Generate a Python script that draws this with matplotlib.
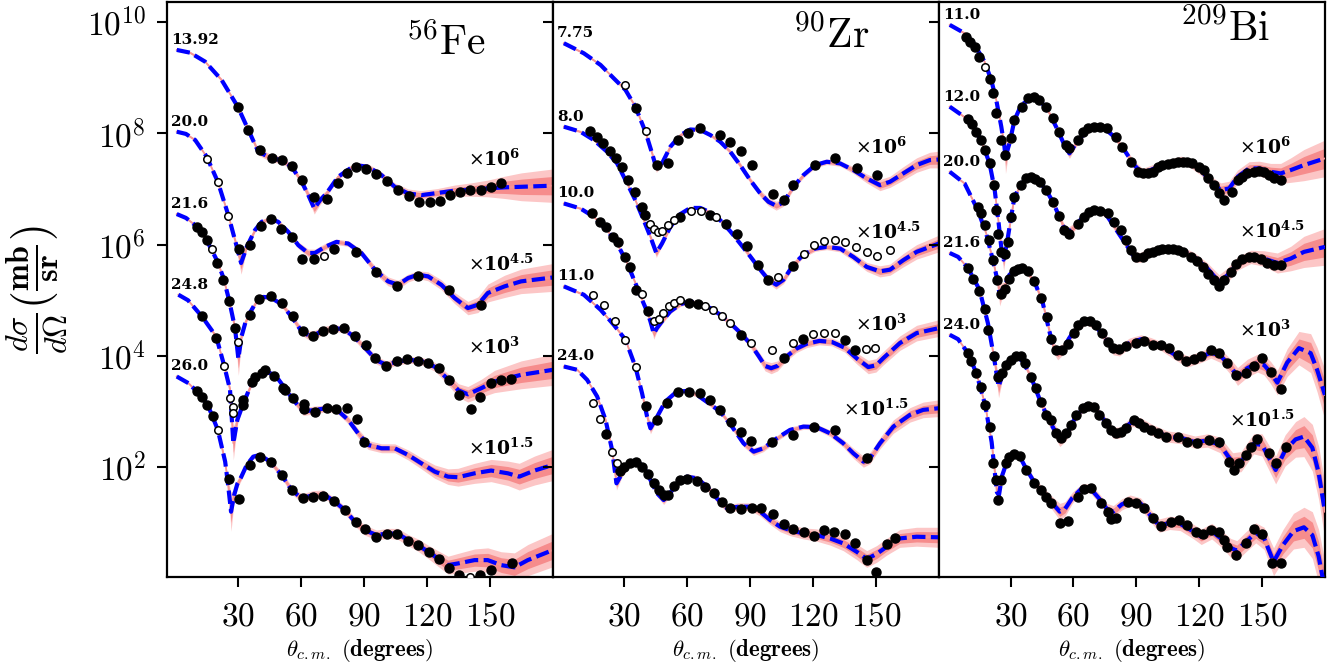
import numpy as np
import matplotlib.pyplot as plt
from matplotlib.ticker import NullLocator

plt.rcParams['mathtext.fontset'] = 'cm'
plt.rcParams['font.family'] = ['DejaVu Serif']
plt.rcParams['axes.linewidth'] = 1.6

# theory curves: [theta_cm, log10(dsigma/dOmega), band half-width in decades]
# data points: [theta_cm, log10(dsigma/dOmega)]

# ---------- 56Fe ----------
fe_13_fit = [[0.6, 9.50, .02], [7, 9.45, .02], [14.1, 9.29, .02], [22, 8.96, .03], [29.7, 8.48, .03],
             [34.8, 8.06, .04], [39.5, 7.67, .06], [45.9, 7.55, .07], [50.6, 7.52, .06], [55.4, 7.40, .05],
             [60.2, 7.13, .06], [63.5, 6.88, .08], [66.2, 6.65, .1], [69, 6.80, .08], [72, 6.92, .06],
             [77.6, 7.22, .05], [85.6, 7.43, .05], [91.9, 7.40, .05], [98.3, 7.25, .06], [104.6, 7.04, .07],
             [111, 6.92, .08], [117.3, 6.89, .08], [125.2, 6.93, .08], [133, 6.97, .1], [141, 6.99, .12],
             [149, 7.01, .15], [157, 7.03, .2], [165, 7.04, .25], [180, 7.06, .3]]
fe_13_pts = [[29.7, 8.48], [34.8, 8.06], [40.3, 7.70], [45.9, 7.55], [50.6, 7.52], [55.4, 7.42], [60.2, 7.16],
             [66.2, 6.85], [72.1, 6.82], [77.6, 7.11], [81.6, 7.28], [86.3, 7.39], [91.1, 7.36], [95.9, 7.27],
             [101, 7.15], [106.2, 6.98], [111.3, 6.88], [116.2, 6.77], [121.3, 6.76], [126, 6.79], [130.8, 6.89],
             [135.6, 6.95], [140.6, 6.98], [145.6, 6.99], [150.3, 7.03], [155.4, 7.10]]
fe_13_open = []

fe_20_fit = [[0.6, 8.03, .02], [5, 7.99, .02], [9.4, 7.88, .02], [14.9, 7.58, .02], [20.2, 7.13, .03],
             [25.2, 6.53, .03], [28.4, 6.08, .05], [31.3, 5.67, .2], [34, 5.96, .05], [37.9, 6.26, .04],
             [41.1, 6.41, .04], [45.1, 6.47, .04], [49, 6.41, .04], [53.8, 6.23, .05], [58.6, 5.99, .06],
             [63.3, 5.85, .07], [66.5, 5.85, .07], [71.3, 5.96, .06], [76.8, 6.05, .05], [82.4, 6.02, .05],
             [88.7, 5.85, .06], [95.1, 5.55, .07], [101.4, 5.34, .08], [106.2, 5.28, .08], [111, 5.40, .07],
             [115.7, 5.46, .07], [120.5, 5.43, .08], [126.8, 5.28, .09], [133.2, 5.04, .1], [139.5, 4.86, .12],
             [144.3, 4.92, .14], [149, 5.13, .16], [157, 5.25, .2], [164.9, 5.34, .22], [180, 5.41, .25]]
fe_20_pts = [[30.5, 5.92], [35.6, 5.99], [40.6, 6.34], [45.4, 6.46], [50.3, 6.29], [55.4, 6.13], [60.2, 5.75],
             [66, 5.74], [75.6, 5.93], [86, 5.86], [95.9, 5.51], [105.7, 5.26], [115.7, 5.44], [130.3, 5.19],
             [145.6, 4.92]]
fe_20_open = [[14.9, 7.54], [20.2, 7.12], [25.2, 6.52], [70.8, 5.80]]

fe_21_fit = [[0.6, 6.55, .02], [5, 6.48, .02], [9.4, 6.35, .02], [14.9, 6.08, .02], [20, 5.70, .03],
             [22.9, 5.40, .03], [25.6, 5.00, .04], [28.4, 4.50, .06], [30, 3.95, .3], [31.5, 4.35, .08],
             [33.5, 4.62, .05], [35.6, 4.78, .04], [38.5, 4.97, .04], [42, 5.06, .04], [45.4, 5.05, .04],
             [50.6, 4.93, .05], [55.9, 4.68, .06], [60, 4.45, .07], [63.5, 4.37, .08], [66.5, 4.38, .08],
             [70.5, 4.46, .07], [75.2, 4.50, .06], [80.5, 4.48, .06], [85.6, 4.33, .06], [91, 4.12, .07],
             [96, 3.92, .07], [100.6, 3.84, .07], [106, 3.90, .06], [112, 3.93, .06], [118, 3.90, .07],
             [124, 3.80, .08], [130, 3.58, .1], [135, 3.38, .12], [139.5, 3.31, .14], [145.9, 3.42, .16],
             [152.2, 3.54, .2], [164.9, 3.66, .25], [180, 3.75, .28]]
fe_21_pts = [[10.2, 6.32], [12.5, 6.22], [14.9, 6.08], [20, 5.67], [22.9, 5.37], [25.6, 4.98], [28.4, 4.50],
             [35.6, 4.74], [40, 5.02], [45.4, 5.07], [50.6, 4.95], [55.9, 4.71], [60.6, 4.44], [65.7, 4.36],
             [70.5, 4.44], [75.2, 4.48], [80.5, 4.50], [85.6, 4.35], [91.1, 4.20], [95.1, 3.96], [100.6, 3.81],
             [105.9, 3.90], [110.6, 3.94], [115.7, 3.90], [120.5, 3.87], [125.6, 3.78], [130.3, 3.57],
             [135.1, 3.29], [140.8, 3.05], [145.1, 3.27], [150.6, 3.52], [155.4, 3.56], [160.2, 3.58]]
fe_21_open = [[17.6, 5.92], [30, 4.25]]

fe_24_fit = [[1.4, 5.10, .02], [6, 5.00, .02], [12.6, 4.71, .02], [19.4, 4.35, .03], [23.2, 3.83, .04],
             [26, 3.40, .06], [27.6, 2.43, .3], [29.5, 2.85, .08], [32.4, 3.15, .05], [37.1, 3.57, .04],
             [42.7, 3.72, .04], [47.5, 3.66, .04], [52.2, 3.42, .05], [56.2, 3.21, .06], [61, 3.00, .07],
             [66.5, 3.03, .07], [72.1, 3.06, .06], [76.8, 3.04, .06], [82.4, 2.85, .07], [87.1, 2.61, .08],
             [91.9, 2.40, .08], [98.3, 2.34, .08], [104.6, 2.34, .08], [111, 2.22, .09], [117.3, 2.07, .1],
             [123.7, 1.92, .12], [130, 1.83, .14], [134.8, 1.82, .16], [142.7, 1.89, .18], [150.6, 1.94, .2],
             [158.6, 1.89, .22], [164, 1.83, .24], [171.3, 1.94, .26], [180, 2.04, .28]]
fe_24_pts = [[12.6, 4.71], [19.2, 4.33], [32.4, 3.12], [32.4, 3.20], [36.4, 3.54], [37.9, 3.63], [41.1, 3.70],
             [42.7, 3.75], [47.1, 3.64], [51.4, 3.42], [52.2, 3.39], [56.2, 3.24], [61.3, 3.14], [61.4, 3.04],
             [66.5, 3.00], [72.1, 3.06], [76.8, 3.04], [81.6, 3.06], [86.4, 2.86], [89.9, 2.46]]
fe_24_open = [[23.0, 3.82], [26.2, 3.24], [27.3, 3.09], [27.6, 2.97]]

fe_26_fit = [[0.6, 3.63, .02], [6.2, 3.51, .02], [10.2, 3.36, .02], [15.4, 3.12, .03], [20.2, 2.67, .04],
             [23.7, 2.10, .06], [25.2, 1.65, .1], [26.5, 1.20, .35], [28, 1.50, .1], [29.5, 1.70, .08],
             [31.3, 1.82, .06], [34, 2.04, .05], [37.1, 2.19, .04], [40.3, 2.22, .04], [45.1, 2.10, .05],
             [50.6, 1.86, .06], [55.4, 1.59, .07], [60.2, 1.44, .08], [65.7, 1.50, .08], [70.5, 1.52, .07],
             [76, 1.38, .07], [80.8, 1.23, .07], [85.6, 1.02, .08], [90.3, 0.87, .09], [95.9, 0.78, .09],
             [101.4, 0.81, .09], [106.2, 0.80, .1], [111, 0.69, .1], [115.7, 0.60, .11], [120.5, 0.48, .12],
             [125.2, 0.36, .14], [130, 0.24, .16], [134.8, 0.27, .18], [142.7, 0.33, .2], [149, 0.33, .22],
             [155.4, 0.24, .24], [161.7, 0.20, .26], [168.1, 0.33, .28], [180, 0.51, .3]]
fe_26_pts = [[10.2, 3.37], [12.5, 3.27], [14.9, 3.12], [17.8, 2.92], [25.6, 1.79], [30.3, 1.43], [35.6, 2.04],
             [40.3, 2.18], [45.4, 2.09], [50.6, 1.86], [55.4, 1.59], [60.6, 1.44], [65.7, 1.47], [70.5, 1.48],
             [75.7, 1.40], [80.8, 1.23], [86, 1.01], [90.6, 0.89], [95.9, 0.75], [101, 0.80], [105.9, 0.80],
             [111, 0.68], [115.7, 0.60], [120.8, 0.47], [125.6, 0.35], [130.3, 0.18], [135.1, 0.06],
             [145.1, 0.06], [150.3, 0.15], [160.6, 0.27]]
fe_26_open = [[20.2, 2.67], [140.3, 0.02]]

# ---------- 90Zr ----------
zr_7_fit = [[1.1, 9.62, .02], [10.6, 9.44, .02], [18.6, 9.23, .02], [24.9, 8.99, .02], [30.5, 8.78, .03],
            [35.2, 8.48, .03], [40, 8.03, .04], [43.2, 7.64, .05], [45.2, 7.38, .08], [47.9, 7.46, .05],
            [51.9, 7.76, .04], [56.7, 7.97, .03], [61.4, 8.07, .03], [66.2, 8.06, .03], [71, 7.97, .03],
            [75.7, 7.85, .04], [80.5, 7.67, .04], [85.2, 7.43, .05], [90, 7.16, .05], [94.8, 6.92, .06],
            [98.7, 6.77, .07], [102.4, 6.70, .08], [105.9, 6.76, .07], [110.6, 7.04, .05], [115.4, 7.25, .05],
            [121, 7.43, .05], [126.5, 7.49, .05], [132.9, 7.46, .05], [139.2, 7.34, .06], [145.6, 7.19, .08],
            [151.9, 7.07, .1], [156.7, 7.13, .1], [163, 7.28, .12], [169.4, 7.43, .13], [175.7, 7.52, .14],
            [180, 7.53, .15]]
zr_7_pts = [[35.6, 8.46], [45.6, 7.43], [50.6, 7.47], [55.4, 7.88], [60.3, 8.00], [65.9, 8.09], [75.7, 7.97],
            [80.5, 7.85], [85.7, 7.69], [90.8, 7.44], [101, 6.91], [105.9, 6.80], [110.6, 7.07], [121, 7.44],
            [130.5, 7.56], [140.8, 7.37], [150.6, 7.26]]
zr_7_open = [[30.5, 8.87], [40.5, 8.04]]

zr_8_fit = [[1.1, 8.12, .02], [9, 8.03, .02], [15.4, 7.88, .02], [21.7, 7.67, .02], [26.5, 7.46, .03],
            [31.3, 7.10, .03], [35.2, 6.80, .03], [39.2, 6.44, .04], [42.4, 6.14, .05], [45.2, 5.85, .08],
            [47.9, 6.02, .05], [51.9, 6.32, .04], [56.7, 6.55, .03], [61.4, 6.66, .03], [66.2, 6.66, .03],
            [71, 6.58, .03], [75.7, 6.44, .04], [80.5, 6.24, .04], [85.2, 6.02, .05], [90, 5.79, .05],
            [94.8, 5.55, .06], [98.7, 5.37, .07], [102.4, 5.28, .08], [105.9, 5.37, .07], [110.6, 5.64, .06],
            [115.4, 5.82, .05], [121, 5.93, .05], [126.5, 5.96, .05], [132.9, 5.93, .06], [139.2, 5.78, .07],
            [145.6, 5.60, .08], [151.9, 5.52, .1], [156.7, 5.55, .1], [163, 5.72, .12], [169.4, 5.87, .13],
            [180, 6.02, .15]]
zr_8_pts = [[13.8, 8.04], [17, 7.93], [19.8, 7.82], [23, 7.69], [26.2, 7.55], [28.6, 7.40], [31.7, 7.16],
            [34.9, 6.94], [38.4, 6.68], [40, 6.53], [56.7, 6.50], [71, 6.53], [78.6, 6.37], [83.7, 6.19],
            [88.7, 5.98], [93.5, 5.64], [98.7, 5.37], [110.6, 5.62]]
zr_8_open = [[42.1, 6.38], [44, 6.28], [45.9, 6.23], [47.9, 6.25], [50.6, 6.35], [53.5, 6.44], [61.7, 6.61],
             [66.7, 6.61], [73.8, 6.49], [103.5, 5.41], [115.6, 5.84], [120.6, 5.99], [125.3, 6.06],
             [130.5, 6.09], [135.2, 6.04], [140.5, 5.95], [145.6, 5.87], [150.6, 5.80], [156.7, 5.90]]

zr_10_fit = [[1.1, 6.74, .02], [9, 6.65, .02], [15.4, 6.50, .02], [21.7, 6.26, .02], [26.5, 6.02, .03],
             [31.3, 5.67, .03], [35.2, 5.31, .04], [38.4, 5.01, .04], [40.8, 4.80, .05], [42.4, 4.62, .06],
             [44, 4.40, .1], [45.5, 4.50, .06], [47.9, 4.62, .05], [51.9, 4.80, .04], [56.7, 4.93, .04],
             [61.4, 4.98, .04], [66.2, 4.93, .04], [71, 4.86, .04], [75.7, 4.74, .05], [80.5, 4.59, .05],
             [85.2, 4.42, .06], [90, 4.22, .07], [94, 4.00, .08], [97.1, 3.82, .09], [100, 3.78, .1],
             [103, 3.82, .09], [107, 3.98, .08], [112, 4.13, .07], [117, 4.22, .07], [123, 4.27, .07],
             [129, 4.25, .07], [135, 4.15, .08], [141, 3.95, .1], [146.3, 3.80, .12], [150, 3.83, .12],
             [153.5, 3.96, .12], [161.4, 4.23, .13], [169.4, 4.41, .14], [180, 4.50, .15]]
zr_10_pts = [[14.6, 6.56], [18.3, 6.41], [21.4, 6.31], [24.6, 6.13], [27, 6.04], [30.5, 5.78], [32.5, 5.60],
             [35.7, 5.18], [41.1, 4.80], [60.6, 4.96], [64.9, 4.94], [85.4, 4.37], [105.9, 3.96], [115.4, 4.30],
             [135.2, 4.29], [140, 4.11]]
zr_10_open = [[38.4, 5.11], [44, 4.62], [46.3, 4.66], [48.4, 4.78], [51.1, 4.89], [53.5, 4.95], [56.7, 5.01],
              [68.6, 4.89], [72.2, 4.83], [76.5, 4.72], [80.5, 4.60], [90.5, 4.24], [100.3, 4.10],
              [110.3, 4.24], [120.2, 4.40], [125, 4.42], [130.5, 4.41], [145.2, 4.13], [149.5, 4.14]]

zr_11_fit = [[1.1, 5.25, .02], [10.6, 5.10, .02], [18.6, 4.83, .02], [24.9, 4.56, .03], [30.5, 4.29, .03],
             [35.2, 3.81, .04], [38.4, 3.33, .05], [40.8, 2.91, .07], [42.4, 2.70, .1], [45.2, 2.88, .06],
             [49.5, 3.18, .04], [55, 3.36, .04], [59.8, 3.37, .04], [64.6, 3.30, .04], [70.2, 3.15, .04],
             [75.7, 3.00, .05], [81.3, 2.73, .05], [86.8, 2.43, .06], [91.6, 2.28, .07], [96.3, 2.34, .06],
             [102.7, 2.52, .05], [109, 2.67, .05], [115.4, 2.73, .05], [121.7, 2.72, .05], [128.1, 2.61, .06],
             [134.4, 2.43, .07], [139.2, 2.25, .09], [144, 2.10, .1], [147.1, 2.16, .1], [151.9, 2.43, .1],
             [158.3, 2.73, .12], [166.2, 2.94, .13], [172.5, 3.03, .14], [180, 3.06, .15]]
zr_11_pts = [[40.3, 3.10], [45.6, 2.84], [50.3, 3.16], [55.4, 3.35], [60.6, 3.36], [65.9, 3.33], [70.6, 3.20],
             [75.7, 3.03], [80.9, 2.82], [85.7, 2.64], [90.5, 2.47], [100.3, 2.45], [110.6, 2.58], [120.5, 2.73],
             [130.5, 2.67], [145.6, 2.16]]
zr_11_open = [[15.1, 5.10], [20.2, 4.91], [25.4, 4.63], [30.5, 4.29], [35.6, 3.80]]

zr_24_fit = [[1.1, 3.81, .02], [7.5, 3.75, .02], [12.2, 3.57, .02], [17, 3.27, .03], [21, 2.85, .04],
             [24.1, 2.31, .06], [26.2, 1.71, .12], [28.9, 1.89, .06], [32.9, 2.07, .04], [36, 2.10, .04],
             [39.2, 2.01, .04], [42.4, 1.77, .05], [45.6, 1.53, .06], [48.7, 1.41, .08], [51.1, 1.50, .06],
             [55.1, 1.71, .05], [59.8, 1.83, .05], [64.6, 1.80, .05], [69.4, 1.65, .06], [74.1, 1.44, .07],
             [78.9, 1.26, .07], [84.4, 1.29, .07], [90, 1.29, .07], [94.8, 1.20, .08], [99.5, 1.05, .08],
             [104.3, 0.93, .09], [109, 0.87, .1], [115.4, 0.81, .1], [121.7, 0.78, .11], [128.1, 0.72, .12],
             [134.4, 0.63, .13], [140.8, 0.48, .14], [145.6, 0.35, .15], [150.3, 0.44, .15], [155.1, 0.57, .15],
             [161.4, 0.72, .16], [169.4, 0.75, .17], [180, 0.74, .18]]
zr_24_pts = [[21.4, 2.59], [28.1, 1.94], [30, 2.01], [32.5, 2.07], [35.6, 2.10], [38.4, 2.01], [41.1, 1.88],
             [44.3, 1.71], [46.3, 1.59], [48.7, 1.50], [50.6, 1.50], [53.5, 1.66], [56.7, 1.77], [59.8, 1.78],
             [64.6, 1.76], [68.6, 1.65], [72.9, 1.54], [76.5, 1.38], [80.5, 1.27], [85.6, 1.25], [90.8, 1.26],
             [95.2, 1.26], [100.8, 1.16], [105.9, 0.98], [110.6, 0.89], [115.7, 0.83], [120.5, 0.77],
             [125.2, 0.87], [130.2, 0.83], [135.2, 0.80], [140, 0.63], [145.6, 0.33], [150, 0.11], [155.4, 0.62],
             [159, 0.72]]
zr_24_open = [[15.1, 3.16], [18.3, 2.86], [24.3, 2.28], [26.5, 2.07]]

# ---------- 209Bi ----------
bi_11_fit = [[1, 9.95, .02], [8.1, 9.80, .02], [12.9, 9.59, .02], [17.6, 9.29, .02], [20.8, 8.96, .03],
             [23.2, 8.60, .03], [25.6, 8.12, .05], [27.1, 7.76, .1], [27.6, 7.58, .3], [29.5, 7.82, .06],
             [31.9, 8.24, .04], [35.1, 8.51, .03], [39.8, 8.63, .03], [44.6, 8.57, .03], [48.6, 8.36, .04],
             [52.5, 8.06, .05], [55.7, 7.79, .07], [58.1, 7.64, .09], [61.3, 7.82, .06], [65.2, 8.00, .05],
             [70, 8.11, .04], [74.8, 8.09, .04], [79.5, 7.94, .05], [84.3, 7.70, .06], [89, 7.43, .08],
             [93, 7.28, .09], [98.6, 7.37, .08], [104.9, 7.46, .07], [111.3, 7.52, .07], [116, 7.46, .08],
             [120.8, 7.34, .09], [125.6, 7.13, .1], [130.3, 6.98, .13], [134.3, 7.01, .13], [138.3, 7.22, .12],
             [143.8, 7.37, .12], [148.6, 7.37, .13], [154.1, 7.31, .15], [158.9, 7.28, .18], [163.7, 7.34, .22],
             [170, 7.43, .28], [180, 7.55, .33]]
bi_11_pts = [[8.9, 9.74], [10.5, 9.65], [12.9, 9.56], [15.2, 9.38], [20, 8.98], [21.6, 8.72], [23.2, 8.36],
             [25.6, 7.88], [27.5, 7.61], [30, 7.91], [31.9, 8.24], [35.4, 8.48], [38.3, 8.63], [41, 8.66],
             [43.8, 8.60], [47, 8.48], [50.2, 8.27], [53.3, 8.03], [56.5, 7.79], [58.1, 7.73], [62.1, 7.88],
             [64.4, 8.03], [67.1, 8.09], [70, 8.12], [72.7, 8.12], [76, 8.09], [80.3, 7.94], [83, 7.76],
             [87.5, 7.49], [90.6, 7.31], [93, 7.28], [95.4, 7.28], [97.8, 7.31], [100.2, 7.40], [102.5, 7.43],
             [104.9, 7.45], [107.3, 7.46], [109.7, 7.48], [112.1, 7.49], [114.4, 7.48], [116.8, 7.46],
             [120, 7.40], [122.4, 7.34], [124.4, 7.19], [127.1, 7.07], [129.5, 6.92], [131.9, 6.80],
             [135.9, 6.95], [138.3, 7.16], [140.6, 7.22], [143, 7.28], [146.2, 7.31], [148.6, 7.33],
             [151, 7.31], [153.3, 7.25], [155.7, 7.19], [158.9, 7.16]]
bi_11_open = [[17.6, 9.20]]

bi_12_fit = [[1, 8.48, .02], [9.7, 8.25, .02], [16, 7.88, .02], [20, 7.46, .03], [22.4, 7.00, .04],
             [24.3, 6.40, .05], [25.6, 5.95, .08], [26.7, 5.73, .2], [28.4, 6.05, .07], [30.3, 6.50, .05],
             [31.9, 6.86, .04], [34.8, 7.07, .03], [37.5, 7.19, .03], [39.8, 7.21, .03], [43.8, 7.13, .03],
             [47, 6.98, .04], [50.2, 6.77, .05], [53.3, 6.50, .06], [55.5, 6.30, .08], [57.3, 6.22, .09],
             [60.5, 6.32, .07], [63.7, 6.46, .05], [67.6, 6.58, .04], [71.6, 6.62, .04], [76, 6.52, .05],
             [79.5, 6.32, .06], [85.9, 5.96, .07], [89, 5.78, .09], [92, 5.77, .09], [95.4, 5.85, .08],
             [100, 5.90, .07], [104.9, 5.93, .07], [111.3, 5.90, .07], [117.6, 5.78, .08], [124, 5.57, .1],
             [129.5, 5.33, .13], [133.5, 5.45, .13], [138.3, 5.66, .12], [144.6, 5.78, .12], [151, 5.75, .14],
             [157.3, 5.67, .18], [163.7, 5.75, .22], [170, 5.87, .28], [180, 5.96, .33]]
bi_12_pts = [[9.7, 8.25], [11.6, 8.17], [13.7, 8.03], [16, 7.88], [17.9, 7.70], [20, 7.46], [22.1, 7.07],
             [23.2, 6.62], [24, 6.20], [25.6, 5.86], [27.6, 5.84], [28.7, 6.05], [30.3, 6.50], [31.9, 6.86],
             [34.8, 7.07], [37.5, 7.19], [39.8, 7.21], [41.9, 7.18], [44.3, 7.12], [47, 6.98], [50.2, 6.77],
             [53.3, 6.52], [55.4, 6.26], [58.1, 6.20], [62.4, 6.38], [64.9, 6.50], [67.6, 6.58], [70, 6.62],
             [72.7, 6.61], [76.3, 6.56], [79.5, 6.41], [82.7, 6.26], [85.1, 6.08], [87.5, 5.90], [89.8, 5.78],
             [93, 5.77], [95.4, 5.85], [97.8, 5.87], [100.2, 5.90], [102.5, 5.92], [104.9, 5.93], [107.3, 5.93],
             [109.7, 5.90], [112.1, 5.87], [116, 5.78], [119.2, 5.70], [121.6, 5.60], [124.3, 5.48],
             [127.1, 5.36], [129.5, 5.25], [131.9, 5.36], [135.1, 5.51], [137.5, 5.66], [140.6, 5.75],
             [143.8, 5.78], [146.2, 5.78], [149.4, 5.75], [152.5, 5.67], [155.7, 5.63], [158.9, 5.63]]
bi_12_open = []

bi_20_fit = [[1, 7.31, .02], [8.1, 7.10, .02], [14.4, 6.62, .03], [18.4, 6.20, .03], [21.6, 5.72, .04],
             [23.7, 5.37, .06], [24.8, 5.10, .2], [27.1, 5.25, .08], [29.5, 5.46, .05], [33.5, 5.58, .04],
             [36.7, 5.55, .04], [41.4, 5.34, .05], [45.4, 4.95, .06], [48.5, 4.45, .08], [50.5, 4.15, .1],
             [52.5, 4.05, .12], [55, 4.12, .1], [58, 4.32, .08], [61.3, 4.50, .07], [66, 4.62, .06],
             [70.8, 4.53, .06], [75.6, 4.29, .08], [79, 4.12, .1], [82, 4.10, .1], [86.7, 4.23, .09],
             [92.2, 4.30, .08], [97, 4.25, .08], [101.7, 4.18, .08], [108.1, 4.03, .09], [114.4, 3.90, .1],
             [120.8, 3.98, .1], [125.6, 4.06, .1], [130.3, 4.00, .12], [135.1, 3.80, .14], [138.3, 3.63, .16],
             [143, 3.78, .16], [147.8, 3.87, .16], [150.9, 3.84, .18], [154.1, 3.70, .2], [157.3, 3.52, .22],
             [162, 3.88, .25], [167.6, 4.14, .3], [173.2, 4.05, .35], [176.3, 3.75, .4], [180, 3.30, .45]]
bi_20_pts = [[14.4, 6.68], [15.7, 6.56], [17.9, 6.35], [19.7, 6.08], [21.6, 5.72], [23.7, 5.37], [25.6, 5.12],
             [27.6, 5.21], [29.2, 5.38], [31.5, 5.52], [33.5, 5.57], [35.5, 5.58], [38.3, 5.52], [41.4, 5.34],
             [44.6, 5.05], [47.6, 4.70], [49.5, 4.30], [51.5, 4.10], [54.8, 4.10], [57.3, 4.22], [60.3, 4.42],
             [62.4, 4.55], [65.2, 4.62], [67.9, 4.62], [70.6, 4.55], [73.5, 4.42], [76.3, 4.25], [78.8, 4.15],
             [81.6, 4.12], [85, 4.18], [89.8, 4.23], [93.8, 4.26], [97.8, 4.20], [101.7, 4.20], [105.7, 4.14],
             [109.7, 4.02], [113.7, 3.90], [117.6, 3.94], [120.8, 3.99], [125.6, 4.10], [129.5, 4.05],
             [133.5, 3.87], [137.5, 3.66], [142.2, 3.69], [146.2, 3.81], [150.2, 3.96], [154.4, 3.72],
             [159.2, 3.40]]
bi_20_open = []

bi_21_fit = [[1, 5.85, .02], [5, 5.78, .02], [9.7, 5.58, .02], [15.2, 5.19, .03], [19.2, 4.59, .04],
             [22, 4.00, .06], [24.3, 3.45, .2], [26.5, 3.70, .07], [29, 3.90, .05], [32.7, 3.99, .04],
             [36, 3.90, .05], [40, 3.60, .06], [44.6, 3.15, .08], [49, 2.80, .1], [53.5, 2.50, .13],
             [56.5, 2.58, .1], [61, 2.90, .08], [66, 3.12, .06], [70, 3.10, .06], [74, 2.88, .08],
             [79, 2.62, .1], [82, 2.62, .1], [88, 2.82, .09], [92, 2.80, .09], [98, 2.66, .1], [105, 2.55, .1],
             [112, 2.52, .1], [118, 2.45, .11], [124, 2.48, .12], [130, 2.40, .14], [136, 2.08, .18],
             [140, 2.10, .18], [146, 2.42, .18], [150, 2.40, .2], [156.5, 1.95, .25], [161, 2.30, .28],
             [166, 2.50, .32], [170, 2.55, .36], [174, 2.35, .42], [177, 1.90, .48], [180, 1.20, .5]]
bi_21_pts = [[9.7, 5.58], [12.3, 5.38], [15.2, 5.16], [17.6, 4.85], [19.2, 4.47], [22.1, 3.99], [24, 3.63],
             [26, 3.69], [27.9, 3.84], [30.3, 3.93], [32.7, 3.99], [34.8, 4.00], [36.7, 3.87], [39.8, 3.63],
             [42.2, 3.42], [44.6, 3.18], [47, 2.94], [49.4, 2.85], [51.7, 2.61], [54.1, 2.52], [56.5, 2.61],
             [58.9, 2.76], [61.3, 2.94], [64.4, 3.06], [66.8, 3.10], [70, 3.09], [72.4, 2.94], [75.6, 2.79],
             [77.9, 2.67], [80.3, 2.61], [82.7, 2.64], [85.1, 2.70], [89, 2.85], [91.4, 2.79], [93.8, 2.73],
             [97, 2.67], [100.2, 2.61], [104.1, 2.55], [109.7, 2.55], [114.4, 2.46], [119.2, 2.43],
             [124.8, 2.49], [129.5, 2.46], [134.3, 2.10], [136.7, 1.95], [139, 2.07], [142.2, 2.22],
             [144.6, 2.37], [147.8, 2.50], [153.3, 2.25], [156.5, 2.07], [161.3, 2.37]]
bi_21_open = []

bi_24_fit = [[1, 4.38, .02], [5, 4.30, .02], [9.7, 4.05, .02], [13.7, 3.69, .03], [17.9, 3.12, .04],
             [21, 2.45, .06], [23.5, 1.55, .15], [24.5, 1.50, .2], [26, 1.85, .08], [28.5, 2.12, .06],
             [31.5, 2.25, .05], [34, 2.22, .05], [37.5, 1.97, .06], [41.5, 1.72, .08], [46, 1.52, .1],
             [50, 1.35, .12], [53.5, 1.20, .15], [56, 1.25, .13], [59.5, 1.45, .1], [64, 1.62, .08],
             [68, 1.62, .08], [72, 1.45, .09], [76, 1.25, .1], [79, 1.20, .11], [83, 1.33, .1], [87, 1.40, .1],
             [92, 1.35, .1], [97, 1.12, .11], [101, 0.95, .12], [106, 1.00, .12], [111, 0.98, .12],
             [117, 0.85, .13], [121, 0.75, .14], [126, 0.85, .14], [131, 0.70, .15], [135, 0.55, .17],
             [138, 0.50, .18], [142, 0.65, .18], [147, 0.82, .18], [151, 0.72, .2], [155.5, 0.30, .25],
             [160, 0.60, .28], [165, 0.85, .32], [170, 0.92, .36], [174, 0.78, .42], [177, 0.40, .48],
             [180, -0.2, .5]]
bi_24_pts = [[9.7, 4.05], [11.3, 3.90], [13.7, 3.69], [16, 3.45], [17.9, 3.12], [20, 2.73], [21.6, 2.07],
             [23.2, 1.77], [24, 1.41], [25.6, 1.77], [27.9, 2.07], [29.5, 2.19], [31.9, 2.24], [34.3, 2.20],
             [37.5, 1.95], [41.4, 1.71], [44.6, 1.59], [47, 1.47], [49.4, 1.35], [53.8, 0.99], [57.6, 1.04],
             [62.1, 1.47], [65.2, 1.60], [68.4, 1.62], [73.2, 1.35], [76.3, 1.20], [77.9, 1.07], [80.3, 1.08],
             [85.9, 1.38], [89.8, 1.35], [93.8, 1.26], [97.8, 1.08], [101.7, 0.95], [106.5, 1.02],
             [110.5, 1.05], [114.4, 0.96], [118.4, 0.83], [121.6, 0.80], [125.6, 0.87], [129.5, 0.84],
             [131.9, 0.69], [133.5, 0.57], [137.5, 0.42], [142.2, 0.63], [146.2, 0.89], [150.2, 0.80],
             [154.9, 0.27], [158.9, 0.27]]
bi_24_open = []

energies_fe = ['13.92', '20.0', '21.6', '24.8', '26.0']
energies_zr = ['7.75', '8.0', '10.0', '11.0', '24.0']
energies_bi = ['11.0', '12.0', '20.0', '21.6', '24.0']
scale_exps = ['6', '4.5', '3', '1.5']

panels = [
    dict(title=r'$^{56}\mathrm{Fe}$', tpos=(0.723, 0.907), energies=energies_fe,
         fits=[fe_13_fit, fe_20_fit, fe_21_fit, fe_24_fit, fe_26_fit],
         pts=[fe_13_pts, fe_20_pts, fe_21_pts, fe_24_pts, fe_26_pts],
         opn=[fe_13_open, fe_20_open, fe_21_open, fe_24_open, fe_26_open],
         spos=[(139.4, 7.42), (139.4, 5.53), (139.4, 4.04), (139.4, 2.22)]),
    dict(title=r'$^{90}\mathrm{Zr}$', tpos=(0.72, 0.92), energies=energies_zr,
         fits=[zr_7_fit, zr_8_fit, zr_10_fit, zr_11_fit, zr_24_fit],
         pts=[zr_7_pts, zr_8_pts, zr_10_pts, zr_11_pts, zr_24_pts],
         opn=[zr_7_open, zr_8_open, zr_10_open, zr_11_open, zr_24_open],
         spos=[(140, 7.64), (140, 6.11), (140, 4.46), (134.4, 2.93)]),
    dict(title=r'$^{209}\mathrm{Bi}$', tpos=(0.741, 0.931), energies=energies_bi,
         fits=[bi_11_fit, bi_12_fit, bi_20_fit, bi_21_fit, bi_24_fit],
         pts=[bi_11_pts, bi_12_pts, bi_20_pts, bi_21_pts, bi_24_pts],
         opn=[bi_11_open, bi_12_open, bi_20_open, bi_21_open, bi_24_open],
         spos=[(139, 7.64), (139, 6.13), (139, 4.34), (134.3, 2.72)]),
]

fig, axes = plt.subplots(1, 3, sharey=True, figsize=(13.41, 6.66), dpi=100)
fig.subplots_adjust(left=0.1243, right=0.988, bottom=0.1332, top=0.9975, wspace=0)

for ax, p in zip(axes, panels):
    for fit, pts, opn, en in zip(p['fits'], p['pts'], p['opn'], p['energies']):
        f = np.array(fit)
        th, lg, bw = f[:, 0], f[:, 1], f[:, 2]
        ax.fill_between(th, 10**(lg - bw), 10**(lg + bw), color='#fcc6c6', lw=0, zorder=1)
        ax.fill_between(th, 10**(lg - 0.55*bw), 10**(lg + 0.55*bw), color='#f68c8c', lw=0, zorder=2)
        ax.plot(th, 10**lg, color='#f59595', lw=1.3, zorder=3)
        ax.plot(th, 10**lg, color='#0000ff', lw=3.0, dashes=(3.2, 1.3), zorder=4)
        if pts:
            d = np.array(pts)
            ax.plot(d[:, 0], 10**d[:, 1], 'o', ms=6.5, mfc='black', mec='black', zorder=5)
        if opn:
            d = np.array(opn)
            ax.plot(d[:, 0], 10**d[:, 1], 'o', ms=5.4, mfc='white', mec='black', mew=1.1, zorder=6)
        ax.text(-2.2, 10**(lg[0] + 0.11), en, fontsize=11, fontweight='bold',
                ha='left', va='baseline', zorder=7)
    for (sx, sy), ex in zip(p['spos'], scale_exps):
        ax.text(sx, 10**sy, r'$\times\mathbf{10^{%s}}$' % ex, math_fontfamily='dejavuserif',
                fontsize=13.5, ha='left', va='baseline')
    ax.text(p['tpos'][0], p['tpos'][1], p['title'], transform=ax.transAxes,
            fontsize=30, ha='center', va='baseline')

    ax.set_yscale('log')
    ax.set_ylim(1.05, 2.33e10)
    ax.set_xlim(-4.2, 180)
    ax.set_yticks([1e2, 1e4, 1e6, 1e8, 1e10], [r'$10^{2}$', r'$10^{4}$', r'$10^{6}$', r'$10^{8}$', r'$10^{10}$'])
    ax.yaxis.set_minor_locator(NullLocator())
    ax.set_xticks([30, 60, 90, 120, 150], [r'$30$', r'$60$', r'$90$', r'$120$', r'$150$'])
    ax.tick_params(axis='both', direction='out', length=7, width=1.5, labelsize=24)
    ax.tick_params(axis='x', pad=10)
    ax.tick_params(axis='y', pad=8)
    ax.set_xlabel(r'$\theta_{c.m.}$ $\mathbf{(degrees)}$', fontsize=16.5)
    ax.xaxis.set_label_coords(0.5, -0.103)

fig.text(0.028, 0.565, r'$\frac{d\sigma}{d\Omega}(\frac{\mathbf{mb}}{\mathbf{sr}})$',
         rotation=90, fontsize=33, ha='center', va='center')

fig.savefig('out.png', dpi=100)
